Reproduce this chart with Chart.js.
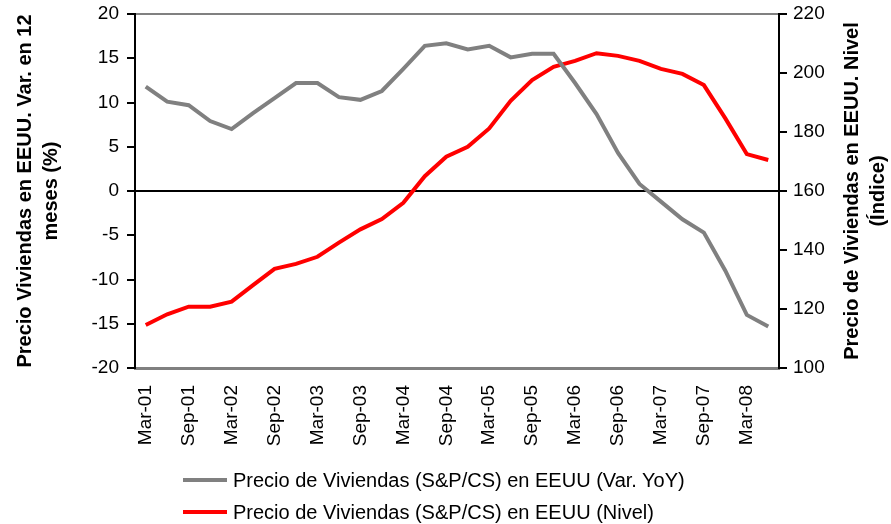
<!DOCTYPE html>
<html>
<head>
<meta charset="utf-8">
<script src="https://cdn.jsdelivr.net/npm/chart.js@4"></script>
<style>
  body { margin: 0; background: #fff; font-family: "Liberation Sans", Arial, sans-serif; }
  #wrap { position: relative; width: 891px; height: 524px; }
  #legend { position: absolute; left: 183px; top: 464px; font-size: 20px; color: #000; }
  .item { display: flex; align-items: center; height: 32px; }
  .swatch { width: 44px; height: 4px; margin-right: 6px; }
</style>
</head>
<body>
<div id="wrap">
  <canvas id="chart" width="891" height="524"></canvas>
  <div id="legend">
    <div class="item"><span class="swatch" style="background:#808080"></span>Precio de Viviendas (S&amp;P/CS) en EEUU (Var. YoY)</div>
    <div class="item"><span class="swatch" style="background:#ff0000"></span>Precio de Viviendas (S&amp;P/CS) en EEUU (Nivel)</div>
  </div>
</div>
<script>
const quarters = [
  "Mar-01", "Jun-01", "Sep-01", "Dec-01", "Mar-02", "Jun-02", "Sep-02", "Dec-02",
  "Mar-03", "Jun-03", "Sep-03", "Dec-03", "Mar-04", "Jun-04", "Sep-04", "Dec-04",
  "Mar-05", "Jun-05", "Sep-05", "Dec-05", "Mar-06", "Jun-06", "Sep-06", "Dec-06",
  "Mar-07", "Jun-07", "Sep-07", "Dec-07", "Mar-08", "Jun-08"
];
// variacion anual (%) - eje izquierdo
const yoy = [
  11.8, 10.1, 9.7, 7.9, 7.0, 8.8, 10.5, 12.2, 12.2, 10.6,
  10.3, 11.3, 13.8, 16.4, 16.7, 16.0, 16.4, 15.1, 15.5, 15.5,
  12.2, 8.7, 4.3, 0.8, -1.2, -3.2, -4.7, -9.0, -14.0, -15.3
];
// nivel del indice - eje derecho
const nivel = [
  114.6, 118.2, 120.8, 120.8, 122.5, 128.1, 133.6, 135.3, 137.7, 142.5,
  147.0, 150.5, 156.0, 165.0, 171.6, 175.0, 181.2, 190.6, 197.6, 202.1,
  204.1, 206.7, 205.8, 204.1, 201.4, 199.7, 195.9, 184.6, 172.5, 170.5
];
const leftTitle = ["Precio Viviendas en EEUU. Var. en 12", "meses (%)"];
const rightTitle = ["Precio de Viviendas en EEUU. Nivel", "(Índice)"];

const font = { family: '"Liberation Sans", Arial, sans-serif', size: 19 };

// titulos de ejes, ambos leidos de abajo hacia arriba
const axisTitles = {
  id: "axisTitles",
  afterDraw(chart) {
    const { ctx, chartArea } = chart;
    const cy = (chartArea.top + chartArea.bottom) / 2;
    ctx.save();
    ctx.font = "bold 20px " + font.family;
    ctx.fillStyle = "#000";
    ctx.textAlign = "center";
    ctx.textBaseline = "middle";
    const draw = (lines, x0) => {
      lines.forEach((t, i) => {
        ctx.save();
        ctx.translate(x0 + i * 26, cy);
        ctx.rotate(-Math.PI / 2);
        ctx.fillText(t, 0, 0);
        ctx.restore();
      });
    };
    draw(leftTitle, 25);
    draw(rightTitle, 852);
    ctx.restore();
  }
};

const fitY = (w) => (s) => {
  s.width = w;
  s.paddingTop = 0;
  s.paddingBottom = 0;
};

new Chart(document.getElementById("chart"), {
  type: "line",
  data: {
    labels: quarters,
    datasets: [
      {
        label: "Precio de Viviendas (S&P/CS) en EEUU (Var. YoY)",
        data: yoy,
        borderColor: "#808080",
        borderWidth: 4,
        pointRadius: 0,
        yAxisID: "y",
      },
      {
        label: "Precio de Viviendas (S&P/CS) en EEUU (Nivel)",
        data: nivel,
        borderColor: "#ff0000",
        borderWidth: 4,
        pointRadius: 0,
        yAxisID: "y2",
      },
    ],
  },
  options: {
    responsive: false,
    animation: false,
    layout: { padding: { top: 14, left: 0, right: 0, bottom: 0 } },
    plugins: { legend: { display: false }, tooltip: { enabled: false } },
    scales: {
      x: {
        offset: true,
        grid: { display: false },
        border: { color: "#808080", width: 3 },
        ticks: {
          autoSkip: false,
          minRotation: 90,
          maxRotation: 90,
          padding: 9,
          color: "#000",
          font: font,
          callback: (v, i) => (i % 2 === 0 ? quarters[i] : ""),
        },
        afterFit: (s) => { s.height = 156; },
      },
      y: {
        position: "left",
        min: -20,
        max: 20,
        ticks: { stepSize: 5, color: "#000", font: font, padding: 8 },
        grid: {
          tickLength: 8,
          tickColor: "#000",
          lineWidth: 2,
          color: (c) => c.tick.value === 0 ? "#000" : c.tick.value === 20 ? "#808080" : "transparent",
        },
        border: { color: "#000", width: 2 },
        afterFit: fitY(135),
      },
      y2: {
        position: "right",
        min: 100,
        max: 220,
        ticks: { stepSize: 20, color: "#000", font: font, padding: 6 },
        grid: { drawOnChartArea: false, tickLength: 8, tickColor: "#000", lineWidth: 2 },
        border: { color: "#000", width: 2 },
        afterFit: fitY(112),
      },
    },
  },
  plugins: [axisTitles],
});
</script>
</body>
</html>
